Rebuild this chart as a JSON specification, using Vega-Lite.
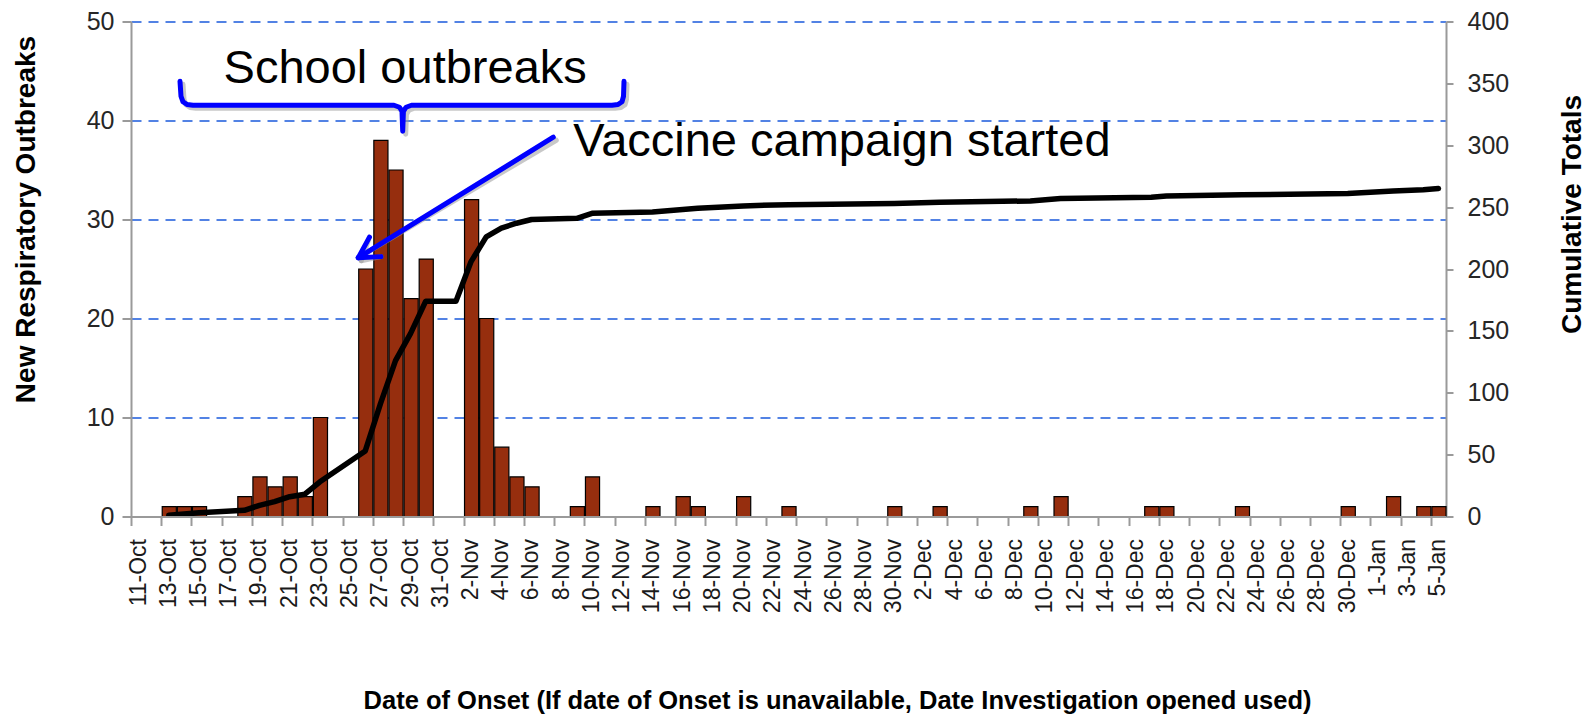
{
  "$schema": "https://vega.github.io/schema/vega-lite/v6.json",
  "width": 1315,
  "height": 495,
  "autosize": "none",
  "padding": {"left": 131, "top": 21.5, "right": 139, "bottom": 203.5},
  "background": "white",
  "config": {"view": {"stroke": null}, "font": "Liberation Sans"},
  "datasets": {
    "daily": [
      {"date": "2009/10/13", "count": 1, "cum": 1},
      {"date": "2009/10/14", "count": 1, "cum": 2},
      {"date": "2009/10/15", "count": 1, "cum": 3},
      {"date": "2009/10/18", "count": 2, "cum": 5},
      {"date": "2009/10/19", "count": 4, "cum": 9},
      {"date": "2009/10/20", "count": 3, "cum": 12},
      {"date": "2009/10/21", "count": 4, "cum": 16},
      {"date": "2009/10/22", "count": 2, "cum": 18},
      {"date": "2009/10/23", "count": 10, "cum": 28},
      {"date": "2009/10/26", "count": 25, "cum": 53},
      {"date": "2009/10/27", "count": 38, "cum": 91},
      {"date": "2009/10/28", "count": 35, "cum": 126},
      {"date": "2009/10/29", "count": 22, "cum": 148},
      {"date": "2009/10/30", "count": 26, "cum": 174},
      {"date": "2009/10/31", "count": 0, "cum": 174},
      {"date": "2009/11/01", "count": 0, "cum": 174},
      {"date": "2009/11/02", "count": 32, "cum": 206},
      {"date": "2009/11/03", "count": 20, "cum": 226},
      {"date": "2009/11/04", "count": 7, "cum": 233},
      {"date": "2009/11/05", "count": 4, "cum": 237},
      {"date": "2009/11/06", "count": 3, "cum": 240},
      {"date": "2009/11/09", "count": 1, "cum": 241},
      {"date": "2009/11/10", "count": 4, "cum": 245},
      {"date": "2009/11/14", "count": 1, "cum": 246},
      {"date": "2009/11/16", "count": 2, "cum": 248},
      {"date": "2009/11/17", "count": 1, "cum": 249},
      {"date": "2009/11/20", "count": 2, "cum": 251},
      {"date": "2009/11/23", "count": 1, "cum": 252},
      {"date": "2009/11/30", "count": 1, "cum": 253},
      {"date": "2009/12/03", "count": 1, "cum": 254},
      {"date": "2009/12/09", "count": 1, "cum": 255},
      {"date": "2009/12/11", "count": 2, "cum": 257},
      {"date": "2009/12/17", "count": 1, "cum": 258},
      {"date": "2009/12/18", "count": 1, "cum": 259},
      {"date": "2009/12/23", "count": 1, "cum": 260},
      {"date": "2009/12/30", "count": 1, "cum": 261},
      {"date": "2010/01/02", "count": 2, "cum": 263},
      {"date": "2010/01/04", "count": 1, "cum": 264},
      {"date": "2010/01/05", "count": 1, "cum": 265}
    ],
    "brace": [
      {"i": 1, "date": "2009/10/14 05:48", "v": 43.96},
      {"i": 2, "date": "2009/10/14 07:23", "v": 42.45},
      {"i": 3, "date": "2009/10/14 10:34", "v": 41.89},
      {"i": 4, "date": "2009/10/14 16:55", "v": 41.61},
      {"i": 5, "date": "2009/10/15 02:27", "v": 41.54},
      {"i": 6, "date": "2009/10/28 09:36", "v": 41.54},
      {"i": 7, "date": "2009/10/28 18:20", "v": 41.34},
      {"i": 8, "date": "2009/10/28 22:18", "v": 40.93},
      {"i": 9, "date": "2009/10/28 23:25", "v": 38.92},
      {"i": 10, "date": "2009/10/29 00:32", "v": 40.93},
      {"i": 11, "date": "2009/10/29 04:39", "v": 41.34},
      {"i": 12, "date": "2009/10/29 13:23", "v": 41.54},
      {"i": 13, "date": "2009/11/11 19:45", "v": 41.54},
      {"i": 14, "date": "2009/11/12 05:17", "v": 41.61},
      {"i": 15, "date": "2009/11/12 11:37", "v": 41.89},
      {"i": 16, "date": "2009/11/12 14:01", "v": 42.45},
      {"i": 17, "date": "2009/11/12 14:48", "v": 43.96}
    ],
    "arrow": [
      {"part": "shaft", "date": "2009/11/07 22:32", "v": 38.31, "date2": "2009/10/26 00:55", "v2": 26.14},
      {"part": "arm1", "date": "2009/10/26 00:55", "v": 26.14, "date2": "2009/10/27 12:57", "v2": 26.25},
      {"part": "arm2", "date": "2009/10/26 00:55", "v": 26.14, "date2": "2009/10/26 18:41", "v2": 28.22}
    ],
    "notes": [
      {"label": "School outbreaks", "date": "2009/10/17 03:02", "v": 43.81},
      {"label": "Vaccine campaign started", "date": "2009/11/09 06:17", "v": 36.44}
    ]
  },
  "layer": [
    {
      "data": {"name": "daily"},
      "transform": [{"filter": "datum.count > 0"}],
      "mark": {"type": "bar", "fill": "#962e0e", "stroke": "#000000", "strokeWidth": 1.2},
      "encoding": {
        "x": {
          "field": "date", "type": "temporal", "timeUnit": "yearmonthdate",
          "scale": {"domain": [{"year": 2009, "month": 10, "date": 11}, {"year": 2010, "month": 1, "date": 6}]},
          "title": "Date of Onset (If date of Onset is unavailable, Date Investigation opened used)",
          "axis": {
            "values": [
              {"year": 2009, "month": 10, "date": 11}, {"year": 2009, "month": 10, "date": 13}, {"year": 2009, "month": 10, "date": 15},
              {"year": 2009, "month": 10, "date": 17}, {"year": 2009, "month": 10, "date": 19}, {"year": 2009, "month": 10, "date": 21},
              {"year": 2009, "month": 10, "date": 23}, {"year": 2009, "month": 10, "date": 25}, {"year": 2009, "month": 10, "date": 27},
              {"year": 2009, "month": 10, "date": 29}, {"year": 2009, "month": 10, "date": 31},
              {"year": 2009, "month": 11, "date": 2}, {"year": 2009, "month": 11, "date": 4}, {"year": 2009, "month": 11, "date": 6},
              {"year": 2009, "month": 11, "date": 8}, {"year": 2009, "month": 11, "date": 10}, {"year": 2009, "month": 11, "date": 12},
              {"year": 2009, "month": 11, "date": 14}, {"year": 2009, "month": 11, "date": 16}, {"year": 2009, "month": 11, "date": 18},
              {"year": 2009, "month": 11, "date": 20}, {"year": 2009, "month": 11, "date": 22}, {"year": 2009, "month": 11, "date": 24},
              {"year": 2009, "month": 11, "date": 26}, {"year": 2009, "month": 11, "date": 28}, {"year": 2009, "month": 11, "date": 30},
              {"year": 2009, "month": 12, "date": 2}, {"year": 2009, "month": 12, "date": 4}, {"year": 2009, "month": 12, "date": 6},
              {"year": 2009, "month": 12, "date": 8}, {"year": 2009, "month": 12, "date": 10}, {"year": 2009, "month": 12, "date": 12},
              {"year": 2009, "month": 12, "date": 14}, {"year": 2009, "month": 12, "date": 16}, {"year": 2009, "month": 12, "date": 18},
              {"year": 2009, "month": 12, "date": 20}, {"year": 2009, "month": 12, "date": 22}, {"year": 2009, "month": 12, "date": 24},
              {"year": 2009, "month": 12, "date": 26}, {"year": 2009, "month": 12, "date": 28}, {"year": 2009, "month": 12, "date": 30},
              {"year": 2010, "month": 1, "date": 1}, {"year": 2010, "month": 1, "date": 3}, {"year": 2010, "month": 1, "date": 5}
            ],
            "format": "%-d-%b",
            "labelAngle": 270,
            "labelFontSize": 23,
            "labelFont": "Liberation Sans",
            "labelColor": "#1a1a1a",
            "labelOffset": 7,
            "labelPadding": 13,
            "labelOverlap": false,
            "labelFlush": false,
            "tickSize": 9,
            "tickWidth": 2,
            "tickColor": "#9a9a9a",
            "domainColor": "#9a9a9a",
            "domainWidth": 2,
            "grid": false,
            "zindex": 1,
            "titleFont": "Liberation Sans",
            "titleFontSize": 25.5,
            "titleFontWeight": "bold",
            "titleColor": "#000000",
            "titleX": 706,
            "titleY": 192,
            "titleBaseline": "alphabetic",
            "titleAlign": "center"
          }
        },
        "y": {
          "field": "count", "type": "quantitative",
          "scale": {"domain": [0, 50]},
          "title": "New Respiratory Outbreaks",
          "axis": {
            "orient": "left",
            "values": [0, 10, 20, 30, 40, 50],
            "grid": true,
            "gridColor": "#5282e4",
            "gridDash": [10, 7],
            "gridWidth": 1.8,
            "labelFontSize": 25,
            "labelFont": "Liberation Sans",
            "labelColor": "#262626",
            "labelPadding": 8,
            "tickSize": 9,
            "tickWidth": 2,
            "tickColor": "#9a9a9a",
            "domainColor": "#9a9a9a",
            "domainWidth": 2,
            "titleFont": "Liberation Sans",
            "titleFontSize": 28,
            "titleFontWeight": "bold",
            "titleColor": "#000000",
            "titleAngle": 270,
            "titleX": -96.5,
            "titleY": 197.5,
            "titleBaseline": "alphabetic",
            "titleAlign": "center"
          }
        }
      }
    },
    {
      "data": {"name": "daily"},
      "mark": {"type": "line", "color": "#000000", "strokeWidth": 5.5, "strokeJoin": "round", "strokeCap": "round"},
      "encoding": {
        "x": {
          "field": "date", "type": "temporal", "timeUnit": "yearmonthdate", "bandPosition": 0.5,
          "scale": {"domain": [{"year": 2009, "month": 10, "date": 11}, {"year": 2010, "month": 1, "date": 6}]},
          "axis": null
        },
        "y": {
          "field": "cum", "type": "quantitative",
          "scale": {"domain": [0, 400]},
          "title": "Cumulative Totals",
          "axis": {
            "orient": "right",
            "values": [0, 50, 100, 150, 200, 250, 300, 350, 400],
            "grid": false,
            "labelFontSize": 25,
            "labelFont": "Liberation Sans",
            "labelColor": "#262626",
            "labelPadding": 14,
            "tickSize": 7,
            "tickWidth": 2,
            "tickColor": "#9a9a9a",
            "domainColor": "#9a9a9a",
            "domainWidth": 2,
            "titleFont": "Liberation Sans",
            "titleFontSize": 28,
            "titleFontWeight": "bold",
            "titleColor": "#000000",
            "titleAngle": 270,
            "titleX": 134,
            "titleY": 192.5,
            "titleBaseline": "alphabetic",
            "titleAlign": "center"
          }
        }
      }
    },
    {
      "data": {"name": "brace"},
      "mark": {"type": "line", "color": "#9a9a9a", "opacity": 0.55, "strokeWidth": 5, "strokeCap": "round", "strokeJoin": "round", "xOffset": 3, "yOffset": 3},
      "encoding": {
        "x": {"field": "date", "type": "temporal", "scale": {"domain": [{"year": 2009, "month": 10, "date": 11}, {"year": 2010, "month": 1, "date": 6}]}, "axis": null},
        "y": {"field": "v", "type": "quantitative", "scale": {"domain": [0, 50]}, "axis": null},
        "order": {"field": "i", "type": "quantitative"}
      }
    },
    {
      "data": {"name": "brace"},
      "mark": {"type": "line", "color": "#0000ff", "strokeWidth": 5, "strokeCap": "round", "strokeJoin": "round"},
      "encoding": {
        "x": {"field": "date", "type": "temporal", "scale": {"domain": [{"year": 2009, "month": 10, "date": 11}, {"year": 2010, "month": 1, "date": 6}]}, "axis": null},
        "y": {"field": "v", "type": "quantitative", "scale": {"domain": [0, 50]}, "axis": null},
        "order": {"field": "i", "type": "quantitative"}
      }
    },
    {
      "data": {"name": "arrow"},
      "mark": {"type": "rule", "color": "#9a9a9a", "opacity": 0.55, "strokeWidth": 5, "strokeCap": "round", "xOffset": 3, "yOffset": 3},
      "encoding": {
        "x": {"field": "date", "type": "temporal", "scale": {"domain": [{"year": 2009, "month": 10, "date": 11}, {"year": 2010, "month": 1, "date": 6}]}, "axis": null},
        "y": {"field": "v", "type": "quantitative", "scale": {"domain": [0, 50]}, "axis": null},
        "x2": {"field": "date2"},
        "y2": {"field": "v2"}
      }
    },
    {
      "data": {"name": "arrow"},
      "mark": {"type": "rule", "color": "#0000ff", "strokeWidth": 5, "strokeCap": "round"},
      "encoding": {
        "x": {"field": "date", "type": "temporal", "scale": {"domain": [{"year": 2009, "month": 10, "date": 11}, {"year": 2010, "month": 1, "date": 6}]}, "axis": null},
        "y": {"field": "v", "type": "quantitative", "scale": {"domain": [0, 50]}, "axis": null},
        "x2": {"field": "date2"},
        "y2": {"field": "v2"}
      }
    },
    {
      "data": {"name": "notes"},
      "mark": {"type": "text", "font": "Liberation Sans", "fontSize": 47, "color": "#000000", "align": "left", "baseline": "alphabetic"},
      "encoding": {
        "x": {"field": "date", "type": "temporal", "scale": {"domain": [{"year": 2009, "month": 10, "date": 11}, {"year": 2010, "month": 1, "date": 6}]}, "axis": null},
        "y": {"field": "v", "type": "quantitative", "scale": {"domain": [0, 50]}, "axis": null},
        "text": {"field": "label"}
      }
    }
  ],
  "resolve": {"scale": {"y": "independent"}, "axis": {"x": "independent"}}
}
